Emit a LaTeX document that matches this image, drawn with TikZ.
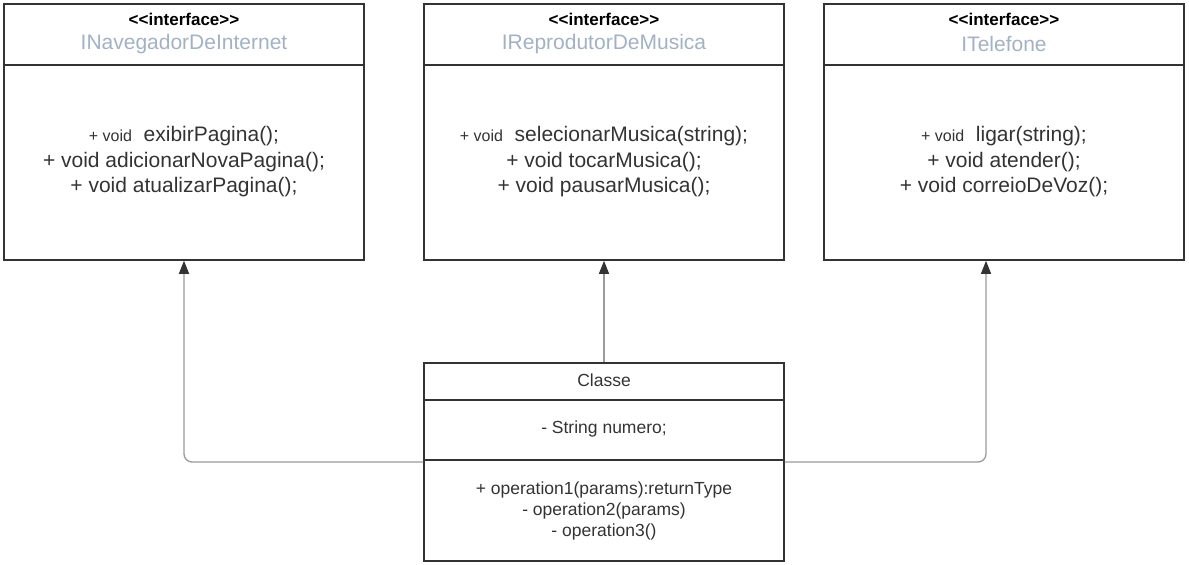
\documentclass[tikz,border=0pt]{standalone}
\usepackage{fontspec}
\setmainfont{Liberation Sans}
\usetikzlibrary{arrows.meta}
\definecolor{borda}{HTML}{333333}
\definecolor{nomecor}{HTML}{A3B1C4}
\definecolor{linha}{HTML}{9A9A9A}

\begin{document}
\begin{tikzpicture}[x=1pt,y=-1pt,
    caixa/.style={draw=borda, line width=1.6pt, minimum width=360pt, inner sep=0pt},
    divisor/.style={draw=borda, line width=1.6pt},
    conn/.style={draw=linha, line width=1.3pt, rounded corners=8pt, -{Triangle[length=13pt,width=10pt,color=borda]}},
    estereo/.style={font=\fontsize{17}{20}\selectfont\bfseries},
    nome/.style={text=nomecor, font=\fontsize{21}{24}\selectfont},
    metodo/.style={text=borda, align=center, font=\fontsize{21}{25.5}\selectfont},
    membro/.style={text=borda, align=center, font=\fontsize{17.5}{21}\selectfont}]
    \useasboundingbox (0,0) rectangle (1189,565);
    % interfaces
    \foreach \cx/\id/\nm in {184/nav/INavegadorDeInternet, 604/mus/IReprodutorDeMusica, 1004/tel/ITelefone}{
        \node[caixa, minimum height=256pt] (\id) at (\cx,132) {};
        \draw[divisor] (\id.north west) ++(0,62) -- ++(360,0);
        \node[estereo] (\id-st) at (\cx,19) {<{}<interface>{}>};
        \node[nome] (\id-nm) at (\cx,44) {\nm};
    }
    \node[metodo] (nav-mt) at (184,162) {{\fontsize{16}{25.5}\selectfont + void}\ \ exibirPagina();\\+ void adicionarNovaPagina();\\+ void atualizarPagina();};
    \node[metodo] (mus-mt) at (604,162) {{\fontsize{16}{25.5}\selectfont + void}\ \ selecionarMusica(string);\\+ void tocarMusica();\\+ void pausarMusica();};
    \node[metodo] (tel-mt) at (1004,162) {{\fontsize{16}{25.5}\selectfont + void}\ \ ligar(string);\\+ void atender();\\+ void correioDeVoz();};
    % classe
    \node[caixa, minimum height=198pt] (cls) at (604,462) {};
    \draw[divisor] (cls.north west) ++(0,38) -- ++(360,0);
    \draw[divisor] (cls.north west) ++(0,98) -- ++(360,0);
    \node[membro] (cls-nm) at (604,380) {Classe};
    \node[membro] (cls-at) at (604,429) {- String numero;};
    \node[membro] (cls-op) at (604,511) {+ operation1(params):returnType\\- operation2(params)\\- operation3()};
    % realizacoes
    \draw[conn] (cls.west) -| (nav.south);
    \draw[conn] (cls.north) -- (mus.south);
    \draw[conn] (cls.east) -| ([xshift=-18pt]tel.south);
\end{tikzpicture}
\end{document}
